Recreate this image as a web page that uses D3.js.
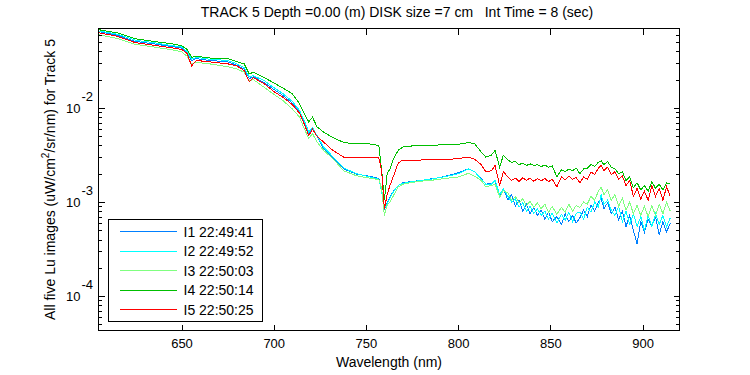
<!DOCTYPE html>
<html>
<head>
<meta charset="utf-8">
<script src="https://cdn.jsdelivr.net/npm/d3@7/dist/d3.min.js"></script>
<style>
  body { margin: 0; background: #fff; }
  text { font-family: "Liberation Sans", Arial, sans-serif; font-size: 14px; fill: #000; }
</style>
</head>
<body>
<div id="chart"></div>
<script>
// wavelength grid (nm)
var wavelength = [
  605, 615, 625, 635, 645, 650, 653, 655.5, 658, 665,
  675, 680, 684, 686.7, 689, 695, 700, 705, 710, 714,
  716.5, 719, 721, 723.5, 727, 732, 738, 745, 752, 757,
  758.5, 760, 761.5, 763, 765, 767.5, 770, 775, 780, 785,
  790, 795, 800, 805.5, 809, 812.5, 815, 818, 820, 822.5,
  824.5, 827, 829, 831, 833, 835, 837, 839, 841, 843,
  845, 847, 849, 851, 853.5, 856, 858, 860, 862, 864,
  866, 868, 870, 872, 874, 876, 877.5, 879, 881, 883,
  885, 887, 889, 891, 893, 895, 897, 899, 901, 903,
  905, 907, 909, 911, 913, 915
];

// Lu values, in units of 1e-3 uW/cm^2/sr/nm
var luI1 = [
  65, 59.5, 51, 48, 45, 43.5, 38.5, 32, 33.5, 32,
  31, 28.5, 26, 20.5, 21.5, 18.5, 15.8, 13.6, 11.3, 9.1,
  7.1, 5.35, 6.0, 5.0, 3.7, 3.0, 2.25, 1.98, 1.88, 1.78,
  1.3, 0.85, 0.97, 1.13, 1.32, 1.5, 1.6, 1.66, 1.7, 1.76,
  1.82, 1.92, 2.05, 2.25, 2.1, 1.78, 1.55, 1.58, 1.7, 1.18,
  1.38, 1.05, 1.2, 0.9, 1.05, 0.8, 0.95, 0.75, 0.88, 0.72,
  0.82, 0.66, 0.78, 0.62, 0.7, 0.58, 0.75, 0.62, 0.72, 0.6,
  0.68, 0.82, 0.7, 0.92, 0.8, 1.0, 1.1, 0.85, 0.98, 0.75,
  0.88, 0.65, 0.8, 0.55, 0.72, 0.5, 0.36, 0.62, 0.48, 0.65,
  0.55, 0.7, 0.45, 0.62, 0.48, 0.6
];
var luI2 = [
  66, 61, 52.5, 49.5, 46, 44.5, 40, 33, 34.5, 33,
  32, 29.5, 27, 21.5, 22, 19.5, 16.5, 14.2, 11.8, 9.4,
  7.4, 5.55, 6.2, 5.1, 3.85, 3.05, 2.3, 2.0, 1.85, 1.75,
  1.3, 0.88, 0.95, 1.1, 1.3, 1.5, 1.58, 1.65, 1.7, 1.75,
  1.82, 1.9, 2.0, 2.25, 2.1, 1.75, 1.55, 1.55, 1.7, 1.2,
  1.38, 1.15, 1.0, 1.08, 0.88, 0.98, 0.8, 0.9, 0.76, 0.85,
  0.72, 0.8, 0.66, 0.76, 0.6, 0.74, 0.64, 0.78, 0.62, 0.76,
  0.78, 0.66, 0.88, 0.78, 1.0, 0.88, 1.2, 0.95, 1.05, 0.82,
  0.72, 0.9, 0.62, 0.8, 0.58, 0.75, 0.55, 0.7, 0.5, 0.72,
  0.55, 0.75, 0.58, 0.72, 0.55, 0.68
];
var luI3 = [
  60, 55, 47.5, 44.5, 41.5, 39.5, 35.5, 29.5, 30.5, 29.5,
  27.5, 26, 24, 19.5, 20, 16.5, 14, 12, 9.8, 8.0,
  6.05, 4.75, 5.35, 4.35, 3.55, 2.9, 2.15, 1.9, 1.8, 1.73,
  1.4, 0.72, 0.93, 1.0, 1.18, 1.45, 1.55, 1.62, 1.67, 1.7,
  1.75, 1.8, 1.85, 2.02, 1.88, 1.7, 1.45, 1.5, 1.55, 1.13,
  1.32, 1.25, 1.05, 1.15, 0.98, 1.08, 0.92, 1.02, 0.88, 0.98,
  0.85, 0.95, 0.78, 0.9, 0.74, 0.88, 0.78, 0.95, 0.8, 0.92,
  0.88, 1.0, 0.95, 1.15, 1.05, 1.3, 1.45, 1.2, 1.35, 1.05,
  1.2, 0.9, 1.1, 0.82, 1.0, 0.75, 0.92, 0.72, 0.9, 0.7,
  0.92, 0.72, 0.95, 0.75, 1.0, 0.8
];
var luI4 = [
  68, 63, 54.5, 51, 48, 46, 42, 34.5, 35.5, 34,
  33.5, 31, 29.5, 23, 24, 21, 18.5, 16.3, 14.2, 11.1,
  8.7, 7.1, 8.0, 6.3, 5.55, 4.85, 4.3, 4.15, 4.15, 4.0,
  2.2, 1.05, 2.0, 2.25, 2.9, 3.55, 3.85, 3.95, 4.0, 4.0,
  4.05, 4.1, 4.1, 4.3, 4.15, 3.4, 3.0, 3.15, 3.55, 2.35,
  3.15, 2.8, 2.65, 2.7, 2.5, 2.6, 2.45, 2.55, 2.45, 2.5,
  2.38, 2.48, 2.35, 2.42, 1.85, 2.2, 2.1, 2.25, 2.15, 2.3,
  2.0, 2.25, 2.3, 2.5, 2.4, 2.65, 2.75, 2.5, 2.7, 2.35,
  2.25, 2.0, 2.1, 1.7, 1.85, 1.42, 1.6, 1.35, 1.5, 1.3,
  1.65, 1.4, 1.55, 1.35, 1.6, 1.55
];
var luI5 = [
  63, 58, 49.5, 46.5, 43.5, 42, 38, 28, 32, 31,
  29.5, 28, 25, 19, 21, 18, 15, 13, 10.9, 8.8,
  6.8, 5.1, 5.95, 5.0, 4.35, 3.55, 3.0, 3.0, 2.95, 2.95,
  2.15, 0.85, 1.2, 1.5, 1.9, 2.6, 2.8, 2.8, 2.8, 2.85,
  2.85, 2.85, 2.9, 3.0, 2.85, 2.5, 2.1, 2.15, 2.45, 1.5,
  2.1, 1.85, 1.7, 1.8, 1.65, 1.82, 1.7, 1.8, 1.66, 1.78,
  1.68, 1.78, 1.65, 1.75, 1.45, 1.85, 1.72, 1.88, 1.75, 1.82,
  1.6, 1.85, 1.75, 2.1, 1.95, 2.3, 2.45, 2.15, 2.35, 1.95,
  2.1, 1.75, 1.9, 1.5, 1.7, 1.15, 1.4, 1.08, 1.3, 1.05,
  1.5, 1.15, 1.4, 1.05, 1.45, 1.15
];

var seriesNames = ["I1 22:49:41", "I2 22:49:52", "I3 22:50:03", "I4 22:50:14", "I5 22:50:25"];
var seriesData = [luI1, luI2, luI3, luI4, luI5];
var seriesColors = ["#0080ff", "#00ffff", "#80ff80", "#00bf00", "#ff0000"];

var xTicks = [650, 700, 750, 800, 850, 900];
var yMajor = [1e-4, 1e-3, 1e-2];

var svgWidth = 750;
var svgHeight = 375;
var margin = { top: 28.5, right: 70.5, bottom: 44.5, left: 98.5 };
var width = svgWidth - margin.left - margin.right;
var height = svgHeight - margin.top - margin.bottom;

var svg = d3.select("#chart")
  .append("svg")
  .attr("width", svgWidth)
  .attr("height", svgHeight);

svg.append("rect").attr("width", svgWidth).attr("height", svgHeight).attr("fill", "#fff");

var chartGroup = svg.append("g")
  .attr("transform", `translate(${margin.left}, ${margin.top})`);

var x = d3.scaleLinear().domain([605, 920]).range([0, width]);
var y = d3.scaleLog().domain([Math.pow(10, -4.365), Math.pow(10, -1.155)]).range([height, 0]);

chartGroup.append("clipPath").attr("id", "clip")
  .append("rect").attr("width", width).attr("height", height);

// curves
var line = d3.line()
  .x((d, i) => x(wavelength[i]))
  .y((d) => y(d * 1e-3));

seriesData.forEach(function (vals, k) {
  chartGroup.append("path")
    .datum(vals)
    .attr("clip-path", "url(#clip)")
    .attr("fill", "none")
    .attr("stroke", seriesColors[k])
    .attr("stroke-width", 1)
    .attr("shape-rendering", "crispEdges")
    .attr("d", line);
});

// axes, ticks inside
var minorTicks = y.ticks().filter((t) => yMajor.indexOf(t) < 0);

function tickAxis(axisFn, scale, values, size) {
  return axisFn(scale).tickValues(values).tickSizeInner(-size).tickSizeOuter(0).tickFormat("");
}

var bottom = chartGroup.append("g")
  .attr("transform", `translate(0, ${height})`)
  .call(d3.axisBottom(x).tickValues(xTicks).tickSizeInner(-6).tickSizeOuter(0).tickPadding(8));
chartGroup.append("g").call(tickAxis(d3.axisTop, x, xTicks, 6));

chartGroup.append("g").call(tickAxis(d3.axisLeft, y, yMajor, 6));
chartGroup.append("g").call(tickAxis(d3.axisLeft, y, minorTicks, 3.5));
chartGroup.append("g").attr("transform", `translate(${width}, 0)`).call(tickAxis(d3.axisRight, y, yMajor, 6));
chartGroup.append("g").attr("transform", `translate(${width}, 0)`).call(tickAxis(d3.axisRight, y, minorTicks, 3.5));

chartGroup.selectAll(".domain").remove();
chartGroup.selectAll(".tick line").attr("stroke", "#000").attr("shape-rendering", "crispEdges");
bottom.selectAll("text").style("font-size", "13px").style("font-family", null).attr("fill", "#000");

chartGroup.append("rect")
  .attr("width", width)
  .attr("height", height)
  .attr("fill", "none")
  .attr("stroke", "#000")
  .attr("shape-rendering", "crispEdges");

// y tick labels 10^n
yMajor.forEach(function (t) {
  chartGroup.append("text")
    .attr("x", -18)
    .attr("y", y(t) + 5)
    .attr("text-anchor", "end")
    .style("font-size", "13px")
    .text("10");
  chartGroup.append("text")
    .attr("x", -17)
    .attr("y", y(t) - 7)
    .style("font-size", "13px")
    .text("-" + Math.round(-Math.log10(t)));
});

// labels
svg.append("text")
  .attr("x", 397)
  .attr("y", 17)
  .attr("text-anchor", "middle")
  .attr("xml:space", "preserve")
  .text("TRACK 5 Depth =0.00 (m) DISK size =7 cm   Int Time = 8 (sec)");

svg.append("text")
  .attr("x", margin.left + width / 2)
  .attr("y", 367)
  .attr("text-anchor", "middle")
  .text("Wavelength (nm)");

var yLabel = svg.append("text")
  .attr("transform", `translate(55, ${margin.top + height / 2}) rotate(-90)`)
  .attr("text-anchor", "middle");
yLabel.append("tspan").text("All five Lu images (uW/cm");
yLabel.append("tspan").attr("dy", -6).style("font-size", "10px").text("2");
yLabel.append("tspan").attr("dy", 6).text("/sr/nm) for Track 5");

// legend
var legend = chartGroup.append("g").attr("transform", "translate(10, 191)");
legend.append("rect")
  .attr("width", 154)
  .attr("height", 102)
  .attr("fill", "#fff")
  .attr("stroke", "#000")
  .attr("shape-rendering", "crispEdges");

seriesNames.forEach(function (name, k) {
  var ly = 12 + k * 19.5;
  legend.append("line")
    .attr("x1", 11).attr("x2", 68)
    .attr("y1", ly).attr("y2", ly)
    .attr("stroke", seriesColors[k])
    .attr("shape-rendering", "crispEdges");
  legend.append("text")
    .attr("x", 75)
    .attr("y", ly + 5)
    .text(name);
});
</script>
</body>
</html>
